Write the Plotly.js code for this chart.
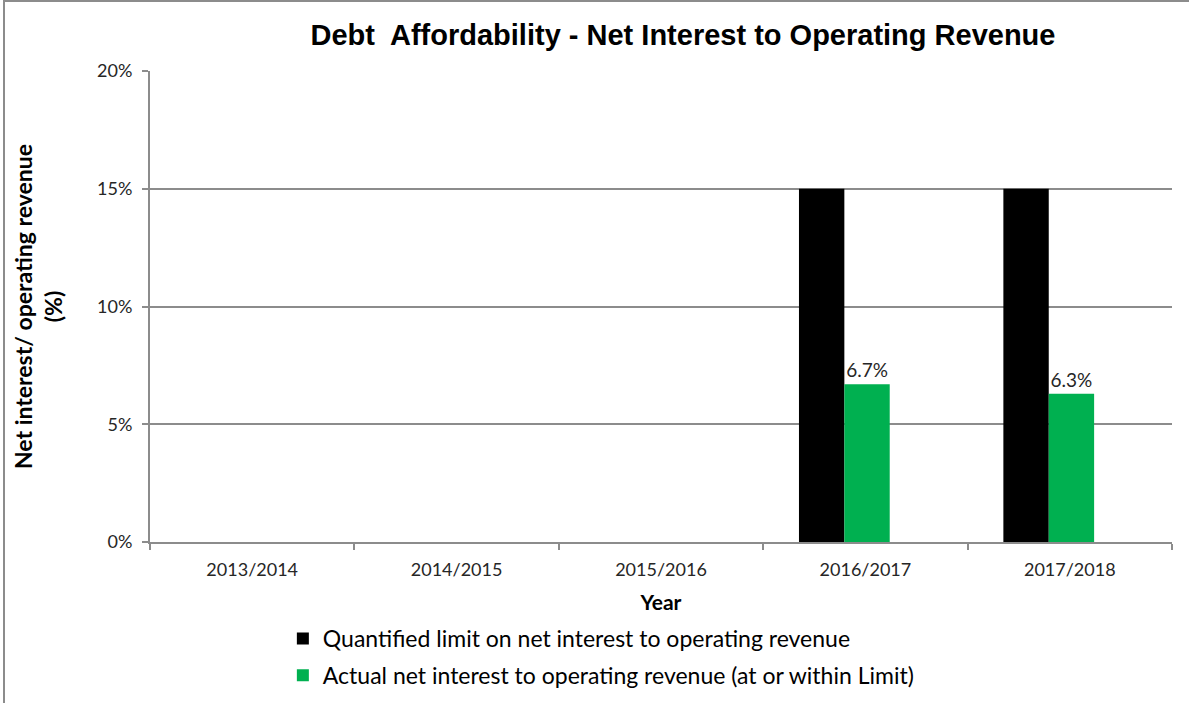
<!DOCTYPE html>
<html>
<head>
<meta charset="utf-8">
<script src="https://cdn.plot.ly/plotly-3.0.1.min.js"></script>
<style>
  html, body { margin: 0; padding: 0; background: #fff; }
  #wrap { position: relative; width: 1189px; height: 703px; overflow: hidden; }
  #chart { position: absolute; left: 0; top: 0; width: 1189px; height: 703px; }
  #frame { position: absolute; left: 3px; top: 0px; width: 1200px; height: 720px;
           border-left: 2px solid #8c8c8c; border-top: 2px solid #8c8c8c; pointer-events: none; }
</style>
</head>
<body>
<div id="wrap">
  <div id="chart"></div>
  <div id="frame"></div>
</div>
<script>
const years = ['2013/2014', '2014/2015', '2015/2016', '2016/2017', '2017/2018'];
const limitValues = [null, null, null, 15, 15];
const actualValues = [null, null, null, 6.7, 6.3];
const seriesNames = [
  'Quantified limit on net interest to operating revenue',
  'Actual net interest to operating revenue (at or within Limit)'
];
const yTicks = [0, 5, 10, 15, 20];

const bodyFont = 'Lato, "Open Sans", sans-serif';

const traces = [
  {
    type: 'bar', x: years, y: limitValues, name: seriesNames[0],
    width: 0.222, offset: -0.325, legendgroup: 'a',
    marker: { color: '#000000' }, hoverinfo: 'x+y'
  },
  {
    type: 'bar', x: years, y: actualValues, name: seriesNames[1],
    width: 0.222, offset: -0.103, legendgroup: 'b',
    marker: { color: '#00B050' },
    texttemplate: '%{y:.1f}%', textposition: 'outside', cliponaxis: false,
    textfont: { family: bodyFont, size: 19, color: '#262626' }
  }
];

const layout = {
  width: 1189, height: 703,
  margin: { l: 150, r: 17, t: 71, b: 161, autoexpand: false },
  paper_bgcolor: '#ffffff', plot_bgcolor: '#ffffff',
  barmode: 'overlay',
  showlegend: true,
  title: {
    text: 'Debt  Affordability - Net Interest to Operating Revenue',
    font: { family: '"Liberation Sans", Arial, sans-serif', size: 29, color: '#000000', weight: 'bold' },
    x: 683 / 1189, xanchor: 'center', xref: 'container',
    y: 1 - 35 / 703, yanchor: 'middle', yref: 'container'
  },
  xaxis: {
    type: 'category', tickson: 'boundaries',
    ticks: 'outside', ticklen: 6, tickwidth: 2, tickcolor: '#8c8c8c',
    showline: true, linecolor: '#8c8c8c', linewidth: 2,
    showgrid: false, zeroline: false,
    tickfont: { family: bodyFont, size: 18, color: '#262626' },
    ticklabelstandoff: 10,
    title: { text: 'Year', font: { family: bodyFont, size: 21, color: '#000000', weight: 'bold' }, standoff: 17 }
  },
  yaxis: {
    range: [0, 20], tickvals: yTicks, ticktext: yTicks.map(v => v + '%'),
    ticks: 'outside', ticklen: 6, tickwidth: 2, tickcolor: '#8c8c8c',
    showline: true, linecolor: '#8c8c8c', linewidth: 2,
    showgrid: true, gridcolor: '#8c8c8c', gridwidth: 2, zeroline: false,
    tickfont: { family: bodyFont, size: 18, color: '#262626' },
    ticklabelstandoff: 6,
    title: { text: 'Net interest/ operating revenue<br>(%)', font: { family: bodyFont, size: 23, color: '#000000', weight: 'bold' }, standoff: 28 }
  },
  legend: {
    orientation: 'v', x: 0.13, xanchor: 'left',
    yref: 'container', y: 1 - 617 / 703, yanchor: 'top',
    font: { family: bodyFont, size: 23, color: '#000000' },
    bgcolor: 'rgba(0,0,0,0)', traceorder: 'grouped', tracegroupgap: 4
  }
};

Plotly.newPlot('chart', traces, layout, { displayModeBar: false, staticPlot: true });
</script>
</body>
</html>
